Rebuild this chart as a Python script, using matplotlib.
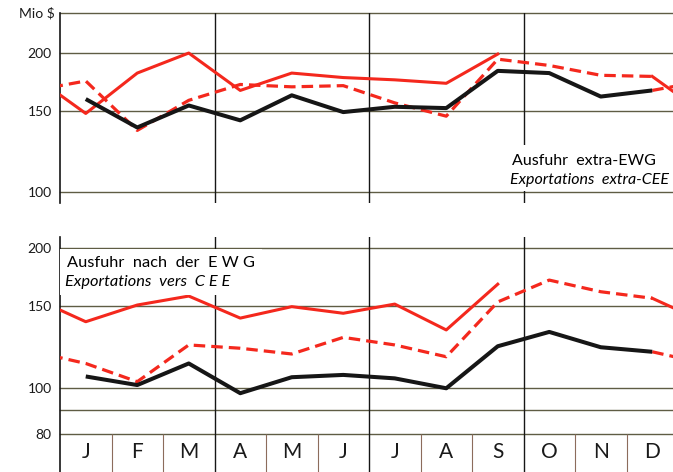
import matplotlib
matplotlib.use("Agg")
import matplotlib.pyplot as plt
from matplotlib import ticker

plt.rcParams['font.family'] = ['Lato', 'DejaVu Sans']

# months and monthly values (Mio $)
months = ["J", "F", "M", "A", "M", "J", "J", "A", "S", "O", "N", "D"]

# Ausfuhr extra-EWG
black_top = [159, 138, 154, 143, 162, 149, 153, 152, 183, 181, 161, 166]
dashed_top = [174, 136, 158, 171, 169, 170, 156, 146, 194, 188, 179, 178]
solid_top = [148, 181, 200, 166, 181, 177, 175, 172, 199]

# Ausfuhr nach der EWG
black_bot = [106, 101.6, 113, 97.6, 105.6, 106.8, 105, 100, 123, 132, 122.4, 119.7]
dashed_bot = [113, 103.3, 123.8, 121.8, 118.4, 128.5, 123.8, 116.8, 153, 170.4, 160.9, 155.8]
solid_bot = [138.8, 150.7, 157.5, 141.3, 149.5, 144.7, 151.4, 133.3, 167]

RED = "#f4281d"
BLACK = "#161616"
GRID = "#5f5c44"
SEP = "#8c6c5c"

W, H = 673, 472
fig = plt.figure(figsize=(W / 100, H / 100), dpi=100)
fig.patch.set_facecolor("white")

XMAX = (W - 60) / 51.5 - 0.5


def px_axes(left, top, right, bottom):
    return fig.add_axes([left / W, 1 - bottom / H, (right - left) / W, (bottom - top) / H])


def draw_lines(ax, black, dashed, solid):
    n = len(months)
    x = list(range(n))
    dash = dict(color=RED, lw=2.3, dashes=(3.6, 1.9), solid_capstyle="butt", dash_capstyle="butt")
    # dashed year, joined to previous year's December
    ax.plot([-1] + x, [black[-1]] + dashed, zorder=3, **dash)
    ax.plot([n - 1, n], [black[-1], dashed[0]], zorder=3, **dash)
    # solid red year
    ax.plot([-1] + x[:len(solid)], [dashed[-1]] + solid, color=RED, lw=2.2, zorder=4)
    ax.plot([n - 1, n], [dashed[-1], solid[0]], color=RED, lw=2.2, zorder=4)
    # black year
    ax.plot(x, black, color=BLACK, lw=2.9, zorder=5, solid_capstyle="butt")


def style(ax, ylo, yhi, ticks, grid):
    ax.set_yscale("log")
    ax.set_xlim(-0.5, XMAX)
    ax.set_ylim(ylo, yhi)
    for s in ["top", "right", "bottom"]:
        ax.spines[s].set_visible(False)
    ax.spines["left"].set_color(BLACK)
    ax.spines["left"].set_linewidth(1.2)
    ax.yaxis.set_major_locator(ticker.FixedLocator(ticks))
    ax.yaxis.set_major_formatter(ticker.FixedFormatter([str(t) for t in ticks]))
    ax.yaxis.set_minor_locator(ticker.NullLocator())
    ax.tick_params(axis="y", length=0, pad=6, labelsize=10, colors="#1a1a1a")
    ax.set_xticks([])
    for g in grid:
        ax.axhline(g, color=GRID, lw=1.0, zorder=1, clip_on=False)
    for q in [2.5, 5.5, 8.5]:
        ax.axvline(q, color=BLACK, lw=1.0, zorder=1)


# top panel
ax1 = px_axes(60, 13, W, 203)
style(ax1, 94.7, 244.2, [100, 150, 200], [100, 150, 200, 244.2])
draw_lines(ax1, black_top, dashed_top, solid_top)
fig.text(55 / W, 1 - 13 / H, "Mio $", ha="right", va="center", fontsize=10, color="#1a1a1a")
ax1.text(8.28, 117, "Ausfuhr  extra-EWG", fontsize=11.5, ha="left", va="center", zorder=6,
         bbox=dict(facecolor="white", edgecolor="none", pad=6))
ax1.text(8.24, 106.2, "Exportations  extra-CEE", fontsize=11.5, style="italic", ha="left",
         va="center", zorder=6, bbox=dict(facecolor="white", edgecolor="none", pad=3))

# bottom panel
ax2 = px_axes(60, 237, W, H)
style(ax2, 66.2, 210.7, [80, 100, 150, 200], [80, 90, 100, 150, 200])
draw_lines(ax2, black_bot, dashed_bot, solid_bot)
for b in [0.5, 1.5, 3.5, 4.5, 6.5, 7.5, 9.5, 10.5]:
    ax2.vlines(b, 66.2, 80, color=SEP, lw=0.8, zorder=1)
for i, m in enumerate(months):
    ax2.text(i, 73.2, m, ha="center", va="center", fontsize=15, color="#1a1a1a")
ax2.text(-0.36, 185.3, "Ausfuhr  nach  der  E W G", fontsize=11.8, ha="left", va="center", zorder=6,
         bbox=dict(facecolor="white", edgecolor="none", pad=5))
ax2.text(-0.40, 168.8, "Exportations  vers  C E E", fontsize=11.8, style="italic", ha="left",
         va="center", zorder=6, bbox=dict(facecolor="white", edgecolor="none", pad=4))

fig.savefig("out.png", dpi=100, facecolor="white")
